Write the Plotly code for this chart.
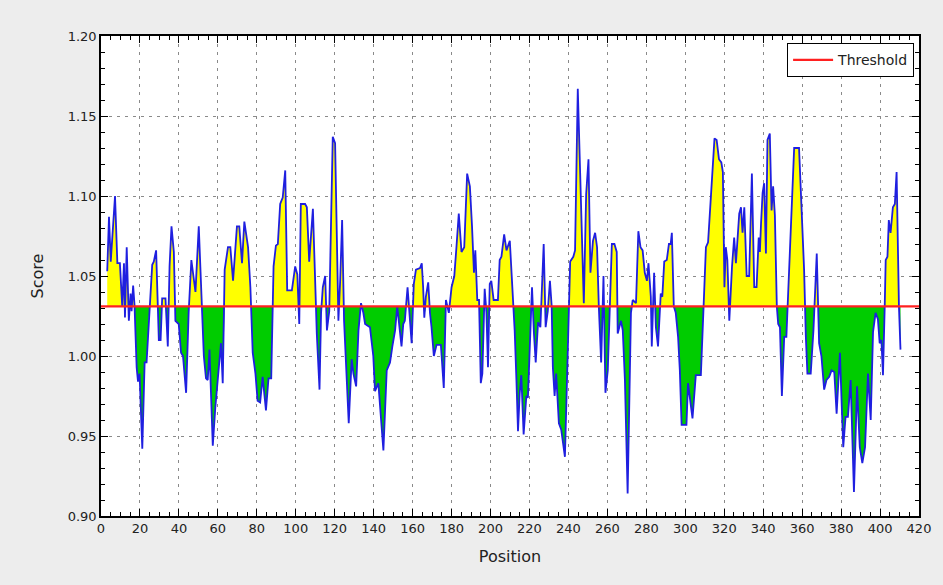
import plotly.graph_objects as go

threshold = 1.031

positions = [
    3.2, 4.1, 5.0, 7.2, 8.4, 9.7, 10.9, 11.8, 12.3, 13.2, 14.3, 15.2, 15.7, 16.5, 17.2, 18.3, 19.0, 19.8,
    21.2, 22.4, 23.4, 24.6, 26.3, 27.1, 28.3, 29.7, 30.6, 31.4, 33.1, 34.3, 35.2, 36.2, 37.4, 38.2, 39.9,
    41.1, 42.1, 43.7, 45.0, 46.4, 48.5, 50.2, 51.7, 52.8, 53.9, 54.8, 55.7, 57.4, 58.7, 60.4, 61.6, 62.5,
    63.5, 65.2, 66.4, 67.8, 69.8, 71.0, 72.4, 73.6, 75.5, 76.7, 77.9, 79.3, 80.4, 81.7, 83.0, 84.7, 86.0,
    87.4, 88.6, 89.8, 90.8, 92.0, 93.3, 94.6, 95.6, 98.0, 99.7, 100.8, 101.8, 102.6, 104.8, 105.7, 106.9,
    108.8, 109.6, 110.8, 112.2, 113.0, 113.9, 115.1, 116.0, 117.2, 117.7, 119.0, 120.2, 121.1, 121.9,
    122.8, 123.8, 124.8, 126.2, 127.2, 128.7, 129.6, 131.0, 132.2, 133.5, 134.7, 135.6, 138.1, 139.8,
    140.7, 142.4, 145.0, 146.7, 148.4, 149.6, 151.0, 152.1, 153.5, 154.3, 155.2, 156.0, 157.4, 158.2,
    159.5, 160.6, 161.7, 163.8, 164.7, 165.4, 166.0, 166.8, 168.0, 168.9, 169.7, 170.9, 172.3, 174.5,
    176.0, 177.1, 178.6, 180.0, 181.4, 182.5, 183.7, 185.1, 186.5, 188.0, 189.4, 190.5, 191.5, 192.2,
    193.2, 194.1, 195.0, 195.8, 197.0, 197.9, 198.7, 199.6, 200.4, 201.6, 203.8, 204.7, 205.6, 207.0,
    208.2, 209.9, 211.3, 212.4, 213.3, 214.1, 215.0, 215.8, 217.0, 218.4, 219.2, 220.4, 221.3, 222.3,
    223.2, 224.4, 225.6, 227.3, 228.3, 229.4, 230.5, 231.4, 232.0, 232.9, 233.7, 235.1, 236.3, 238.2,
    239.6, 240.9, 242.5, 243.4, 244.8, 246.5, 247.9, 249.1, 250.3, 251.3, 252.6, 253.7, 254.7, 255.6,
    256.8, 258.0, 259.0, 260.2, 261.0, 262.3, 263.6, 264.8, 265.3, 266.1, 267.0, 267.9, 269.0, 270.4,
    271.3, 272.1, 273.0, 274.7, 275.9, 277.0, 278.1, 279.2, 280.3, 281.1, 282.3, 282.8, 284.0, 284.9,
    286.0, 287.4, 288.2, 289.2, 290.5, 291.6, 292.5, 293.1, 294.1, 295.1, 296.3, 297.2, 298.1, 300.6,
    301.4, 303.7, 305.4, 308.0, 309.4, 310.6, 311.7, 313.8, 315.0, 316.1, 317.3, 318.5, 319.3, 320.1,
    320.8, 321.6, 322.6, 324.0, 325.1, 326.0, 327.7, 328.6, 329.4, 330.3, 331.5, 332.8, 334.2, 335.4,
    336.6, 337.7, 338.3, 338.9, 339.7, 340.5, 341.4, 342.2, 343.4, 344.3, 345.1, 346.0, 347.0, 347.7,
    348.6, 349.6, 350.8, 351.9, 353.3, 354.7, 355.9, 358.4, 359.3, 361.0, 361.9, 362.7, 364.4, 365.8,
    367.5, 368.7, 369.9, 371.3, 372.5, 373.9, 375.1, 376.5, 377.7, 378.7, 379.4, 380.3, 381.1, 382.3,
    383.5, 384.9, 386.6, 388.2, 389.6, 390.9, 392.3, 393.8, 395.2, 396.4, 397.7, 398.9, 399.8, 400.7,
    401.5, 402.4, 402.9, 403.8, 404.5, 405.4, 406.6, 407.6, 408.5, 409.7, 410.5,
]

scores = [
    1.053, 1.087, 1.059, 1.100, 1.058, 1.058, 1.031, 1.058, 1.024, 1.068, 1.022, 1.039, 1.028, 1.044, 1.032, 0.993, 0.984, 0.989,
    0.942, 0.996, 0.996, 1.025, 1.057, 1.059, 1.066, 1.010, 1.010, 1.036, 1.036, 1.006, 1.056, 1.081, 1.065, 1.022, 1.020,
    1.002, 1.000, 0.977, 1.027, 1.060, 1.040, 1.081, 1.031, 1.000, 0.986, 0.985, 1.004, 0.944, 0.968, 0.992, 1.008, 0.983,
    1.054, 1.068, 1.068, 1.047, 1.081, 1.081, 1.058, 1.084, 1.068, 1.043, 1.002, 0.989, 0.972, 0.971, 0.987, 0.966, 0.986,
    0.986, 1.056, 1.069, 1.070, 1.095, 1.099, 1.116, 1.041, 1.041, 1.056, 1.051, 1.020, 1.095, 1.095, 1.093, 1.059,
    1.092, 1.056, 1.014, 0.979, 1.027, 1.043, 1.050, 1.016, 1.028, 1.058, 1.137, 1.133, 1.068, 1.022,
    1.047, 1.085, 1.022, 0.979, 0.958, 0.998, 0.989, 0.981, 1.016, 1.033, 1.027, 1.020, 1.018, 1.000,
    0.978, 0.983, 0.941, 0.991, 0.996, 1.006, 1.016, 1.031, 1.015, 1.006, 1.020, 1.022, 1.043, 1.028,
    1.008, 1.045, 1.054, 1.055, 1.058, 1.043, 1.024, 1.037, 1.046, 1.027, 1.018, 1.000, 1.007, 1.007,
    0.980, 1.035, 1.027, 1.043, 1.050, 1.068, 1.089, 1.065, 1.068, 1.114, 1.106, 1.081, 1.052, 1.066,
    1.035, 1.035, 0.983, 0.989, 1.042, 1.027, 0.993, 1.045, 1.047, 1.035, 1.035, 1.060, 1.062, 1.076,
    1.066, 1.072, 1.039, 1.016, 0.985, 0.953, 0.977, 0.988, 0.951, 0.975, 0.974, 1.014, 1.043, 1.014,
    0.996, 1.021, 1.018, 1.070, 1.018, 1.028, 1.047, 1.031, 0.993, 0.975, 0.989, 0.958, 0.954, 0.937,
    1.006, 1.059, 1.062, 1.066, 1.167, 1.089, 1.033, 1.101, 1.123, 1.052, 1.072, 1.077, 1.068, 1.031,
    0.996, 1.050, 0.977, 0.991, 1.027, 1.070, 1.070, 1.065, 1.014, 1.018, 1.022, 1.016, 0.985, 0.914,
    0.985, 1.027, 1.035, 1.033, 1.078, 1.068, 1.066, 1.052, 1.047, 1.058, 1.037, 1.006, 1.052, 1.018,
    1.006, 1.039, 1.037, 1.059, 1.060, 1.070, 1.070, 1.077, 1.031, 1.027, 1.012, 0.991, 0.957, 0.957,
    0.983, 0.961, 0.988, 0.988, 1.031, 1.068, 1.071, 1.112, 1.136, 1.135, 1.123, 1.121, 1.115, 1.043,
    1.068, 1.060, 1.022, 1.056, 1.074, 1.058, 1.089, 1.093, 1.077, 1.093, 1.050, 1.050, 1.114, 1.043,
    1.043, 1.074, 1.065, 1.083, 1.102, 1.108, 1.064, 1.135, 1.139, 1.091, 1.106, 1.088, 1.031, 1.020,
    1.018, 0.975, 1.012, 1.012, 1.052, 1.101, 1.130, 1.130, 1.107, 1.054, 1.012, 0.989, 0.989, 1.016,
    1.064, 1.008, 1.000, 0.979, 0.985, 0.987, 0.991, 0.990, 0.964, 0.989, 1.002, 0.970, 0.943, 0.962,
    0.962, 0.985, 0.915, 0.981, 0.943, 0.933, 0.943, 0.989, 0.960, 1.015, 1.027, 1.023, 1.008, 1.010,
    0.988, 1.031, 1.060, 1.062, 1.085, 1.077, 1.093, 1.095, 1.115, 1.031, 1.004,
]

x_range = [0, 420]
y_range = [0.90, 1.20]

# geometry for the two-colour fill: add threshold crossings between samples
fx, fy = [], []
for i in range(len(positions)):
    if i > 0:
        y0, y1 = scores[i - 1], scores[i]
        if (y0 - threshold) * (y1 - threshold) < 0:
            t = (threshold - y0) / (y1 - y0)
            fx.append(positions[i - 1] + t * (positions[i] - positions[i - 1]))
            fy.append(threshold)
    fx.append(positions[i])
    fy.append(scores[i])
upper = [max(v, threshold) for v in fy]
lower = [min(v, threshold) for v in fy]
base = [threshold] * len(fx)

fig = go.Figure()
fig.add_trace(go.Scatter(x=fx, y=base, mode="lines", line=dict(width=0), showlegend=False, hoverinfo="skip"))
fig.add_trace(go.Scatter(x=fx, y=upper, mode="lines", line=dict(width=0), fill="tonexty",
                         fillcolor="#ffff00", showlegend=False, hoverinfo="skip"))
fig.add_trace(go.Scatter(x=fx, y=base, mode="lines", line=dict(width=0), showlegend=False, hoverinfo="skip"))
fig.add_trace(go.Scatter(x=fx, y=lower, mode="lines", line=dict(width=0), fill="tonexty",
                         fillcolor="#00cc00", showlegend=False, hoverinfo="skip"))
fig.add_trace(go.Scatter(x=positions, y=scores, mode="lines", line=dict(color="#1f1fe0", width=1.8),
                         showlegend=False))
fig.add_trace(go.Scatter(x=x_range, y=[threshold, threshold], mode="lines",
                         line=dict(color="#ff2020", width=2.2), name="Threshold"))

axis_common = dict(
    showline=True, linecolor="black", linewidth=1.5, mirror="ticks",
    ticks="inside", ticklen=7, tickwidth=1, tickcolor="black",
    showgrid=True, gridcolor="#8a8a8a", gridwidth=1, griddash="3px,5px",
    zeroline=False, tickfont=dict(family="DejaVu Sans", size=13, color="#222222"),
)

fig.update_xaxes(range=x_range, dtick=20, tick0=0,
                 minor=dict(ticks="inside", ticklen=4, dtick=5, tickcolor="black", showgrid=False),
                 title=dict(text="Position", font=dict(family="DejaVu Sans", size=16, color="#222222"),
                            standoff=15),
                 **axis_common)
fig.update_yaxes(range=y_range, dtick=0.05, tick0=0.9, tickformat=".2f",
                 minor=dict(ticks="inside", ticklen=4, dtick=0.01, tickcolor="black", showgrid=False),
                 title=dict(text="Score", font=dict(family="DejaVu Sans", size=16, color="#222222"),
                            standoff=20),
                 **axis_common)

fig.update_layout(
    width=943, height=585,
    margin=dict(l=101, r=21, t=36, b=69),
    paper_bgcolor="#ededed", plot_bgcolor="white",
    font=dict(family="DejaVu Sans", color="#222222"),
    legend=dict(x=0.994, y=0.985, xanchor="right", yanchor="top", itemwidth=40,
                bgcolor="white", bordercolor="black", borderwidth=1,
                font=dict(family="DejaVu Sans", size=14, color="#222222")),
)

fig.write_html("out.html", config={"displayModeBar": False},
               post_script="document.body.style.margin='0';document.body.style.background='#ededed';")
